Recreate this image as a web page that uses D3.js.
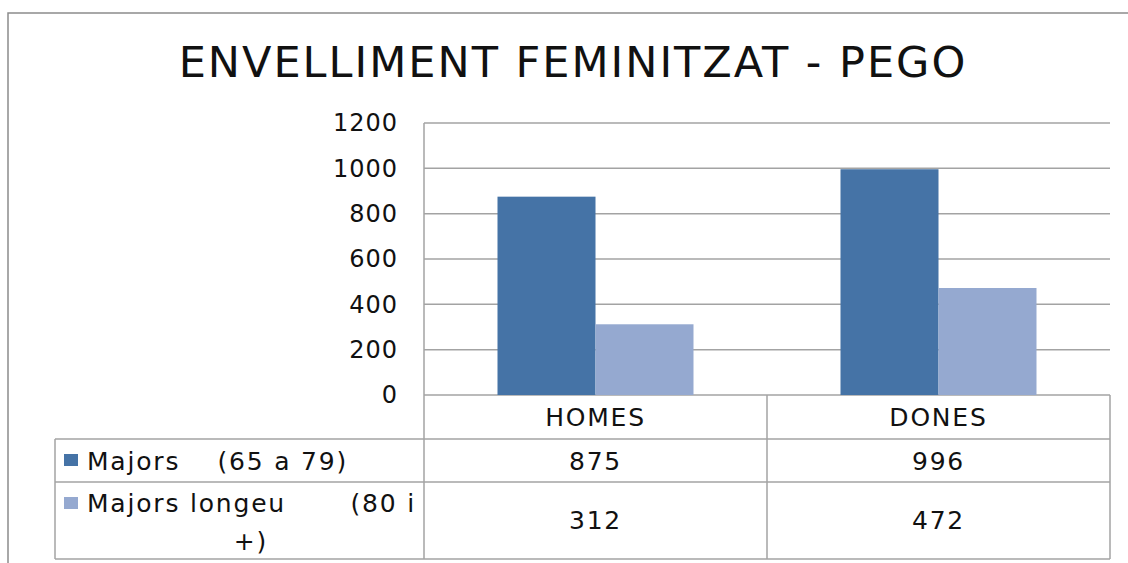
<!DOCTYPE html>
<html>
<head>
<meta charset="utf-8">
<script src="https://cdn.jsdelivr.net/npm/d3@7"></script>
<style>
  body { margin: 0; background: #fff; }
  text { font-family: "DejaVu Sans", sans-serif; fill: #111; }
</style>
</head>
<body>
<div id="chart"></div>
<script>
const CATEGORIES = ["HOMES", "DONES"]
const SERIES = ["Majors", "Majors longeu"]
const MAJORS = [875, 996]
const LONGEU = [312, 472]
const Y_TICKS = [0, 200, 400, 600, 800, 1000, 1200]
const COLORS = ["#4573a6", "#95a9d0"]

const WIDTH = 1128
const HEIGHT = 563
const LEFT = 424
const RIGHT = 1110
const TOP = 123
const BOTTOM = 395
const TABLE_LEFT = 55
const ROWS = [395, 439, 482, 559]
const GRID = "#a3a3a3"
const FS = 25
const LS = 1.8

const values = [MAJORS, LONGEU]

const svg = d3.select("#chart")
  .append("svg")
  .attr("width", WIDTH)
  .attr("height", HEIGHT)

// outer frame (only top and left visible)
svg.append("path")
  .attr("d", `M8,${HEIGHT} V13 H${WIDTH}`)
  .attr("fill", "none")
  .attr("stroke", "#8c8c8c")
  .attr("stroke-width", 1.5)

svg.append("text")
  .attr("x", 573)
  .attr("y", 77)
  .attr("text-anchor", "middle")
  .attr("font-size", 43)
  .attr("letter-spacing", 2)
  .text("ENVELLIMENT FEMINITZAT - PEGO")

const yScale = d3.scaleLinear()
  .domain([0, 1200])
  .range([BOTTOM, TOP])

const x0 = d3.scaleBand()
  .domain(CATEGORIES)
  .range([LEFT, RIGHT])

const x1 = d3.scaleBand()
  .domain(SERIES)
  .range([0, x0.bandwidth()])
  .paddingOuter(0.75)

// gridlines
svg.append("g")
  .selectAll("line")
  .data(Y_TICKS)
  .enter()
  .append("line")
  .attr("x1", LEFT)
  .attr("x2", RIGHT)
  .attr("y1", d => yScale(d))
  .attr("y2", d => yScale(d))
  .attr("stroke", GRID)
  .attr("stroke-width", 1.5)

const yAxis = d3.axisLeft(yScale)
  .tickValues(Y_TICKS)
  .tickFormat(d3.format("d"))
  .tickSize(0)
  .tickPadding(26)

svg.append("g")
  .attr("transform", `translate(${LEFT},0)`)
  .call(yAxis)
  .call(g => g.select(".domain").remove())
  .selectAll("text")
  .attr("font-size", 24)
  .attr("letter-spacing", 1)
  .attr("font-family", "DejaVu Sans, sans-serif")
  .attr("fill", "#111")

// bars
SERIES.forEach((s, si) => {
  svg.append("g")
    .selectAll("rect")
    .data(values[si])
    .enter()
    .append("rect")
    .attr("x", (d, i) => x0(CATEGORIES[i]) + x1(s))
    .attr("y", d => yScale(d))
    .attr("width", x1.bandwidth())
    .attr("height", d => BOTTOM - yScale(d))
    .attr("fill", COLORS[si])
})

// data table
const table = svg.append("g")
  .attr("stroke", GRID)
  .attr("stroke-width", 1.5)

table.append("line")
  .attr("x1", LEFT).attr("x2", LEFT)
  .attr("y1", TOP).attr("y2", ROWS[3])
table.append("line")
  .attr("x1", LEFT + x0.step()).attr("x2", LEFT + x0.step())
  .attr("y1", ROWS[0]).attr("y2", ROWS[3])
table.append("line")
  .attr("x1", RIGHT).attr("x2", RIGHT)
  .attr("y1", ROWS[0]).attr("y2", ROWS[3])
table.append("line")
  .attr("x1", TABLE_LEFT).attr("x2", TABLE_LEFT)
  .attr("y1", ROWS[1]).attr("y2", ROWS[3])
ROWS.slice(1).forEach(r => {
  table.append("line")
    .attr("x1", TABLE_LEFT).attr("x2", RIGHT)
    .attr("y1", r).attr("y2", r)
})

svg.selectAll(".cat")
  .data(CATEGORIES)
  .enter()
  .append("text")
  .attr("x", d => x0(d) + x0.bandwidth() / 2)
  .attr("y", 426)
  .attr("text-anchor", "middle")
  .attr("font-size", FS)
  .attr("letter-spacing", LS)
  .text(d => d)

const rowY = [470, 529]
values.forEach((vals, si) => {
  svg.append("g")
    .selectAll("text")
    .data(vals)
    .enter()
    .append("text")
    .attr("x", (d, i) => x0(CATEGORIES[i]) + x0.bandwidth() / 2)
    .attr("y", rowY[si])
    .attr("text-anchor", "middle")
    .attr("font-size", FS)
    .attr("letter-spacing", LS)
    .text(d => d)
})

// legend keys
const keyY = [454, 497]
COLORS.forEach((c, i) => {
  svg.append("rect")
    .attr("x", 64)
    .attr("y", keyY[i])
    .attr("width", 14)
    .attr("height", 12)
    .attr("fill", c)
})

const label = (x, y, anchor, t) => svg.append("text")
  .attr("x", x).attr("y", y)
  .attr("text-anchor", anchor)
  .attr("font-size", FS)
  .attr("letter-spacing", LS)
  .text(t)

label(87, 470, "start", "Majors")
label(348, 470, "end", "(65 a 79)")
label(87, 512, "start", "Majors longeu")
label(416, 512, "end", "(80 i")
label(251, 550, "middle", "+)")
</script>
</body>
</html>
